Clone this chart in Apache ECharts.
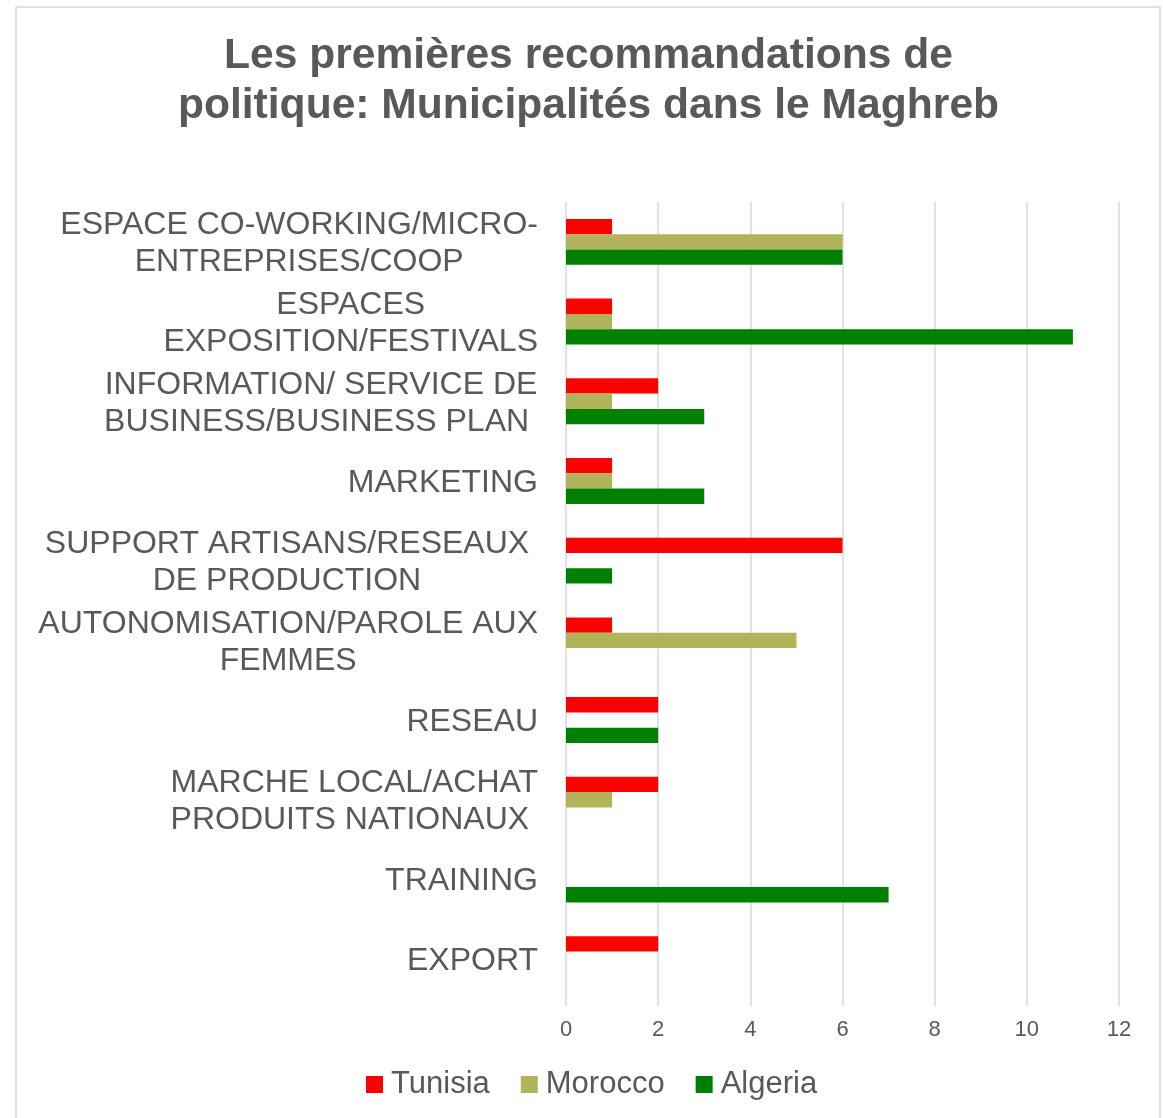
<!DOCTYPE html>
<html>
<head>
<meta charset="utf-8">
<script src="https://cdn.jsdelivr.net/npm/echarts@6/dist/echarts.min.js"></script>
<style>
    body { margin: 0; overflow: hidden; background: #fff; }
    #container { width: 1177px; height: 1118px; }
</style>
</head>
<body>
<div id="container"></div>
<script>
// 分类 (从上到下)
var categories = [
    'ESPACE CO-WORKING/MICRO-\nENTREPRISES/COOP',
    'ESPACES\nEXPOSITION/FESTIVALS',
    'INFORMATION/ SERVICE DE\nBUSINESS/BUSINESS PLAN ',
    'MARKETING',
    'SUPPORT ARTISANS/RESEAUX \nDE PRODUCTION ',
    'AUTONOMISATION/PAROLE AUX\nFEMMES',
    'RESEAU',
    'MARCHE LOCAL/ACHAT\nPRODUITS NATIONAUX ',
    'TRAINING',
    'EXPORT',
]
var seriesNames = ['Tunisia', 'Morocco', 'Algeria']
var tunisia = [1, 1, 2, 1, 6, 1, 2, 2, 0, 2]
var morocco = [6, 1, 1, 1, 0, 5, 0, 1, 0, 0]
var algeria = [6, 11, 3, 3, 1, 0, 2, 0, 7, 0]
var xTicks = [0, 12, 2]

var titleText = 'Les premières recommandations de\npolitique: Municipalités dans le Maghreb'

var textColor = '#595959'
var fontName = 'Liberation Sans, Arial, sans-serif'

// 多行标签: 每一行居中, 整块右对齐
var labelFormatter = function (value) {
    var lines = value.split('\n')
    var out = []
    for (var i = 0; i < lines.length; i++) {
        out.push('{c|' + lines[i] + '}')
    }
    return out.join('\n')
}

var makeSeries = function (name, data, color) {
    return {
        name: name,
        type: 'bar',
        data: data,
        barWidth: 15.3,
        barGap: '0%',
        itemStyle: { color: color },
    }
}

var chartInit = function () {
    var myChart = echarts.init(document.getElementById('container'))

    var option = {
        animation: false,
        textStyle: { fontFamily: fontName },
        title: {
            text: titleText,
            left: 'center',
            top: 26,
            textStyle: {
                fontFamily: fontName,
                fontSize: 42.6,
                fontWeight: 'bold',
                color: textColor,
                lineHeight: 50,
            },
        },
        graphic: [{
            type: 'rect',
            shape: { x: 16, y: 7, width: 1144, height: 1160 },
            style: { fill: 'none', stroke: '#d9d9d9', lineWidth: 1.5 },
            silent: true,
        }],
        legend: {
            data: seriesNames,
            left: 361,
            top: 1064,
            icon: 'rect',
            itemWidth: 17,
            itemHeight: 17,
            itemGap: 31,
            textStyle: {
                fontFamily: fontName,
                fontSize: 31,
                color: textColor,
                padding: [0, 0, 0, 3],
            },
        },
        grid: {
            left: 566,
            right: 58,
            top: 202,
            bottom: 119,
            containLabel: false,
        },
        xAxis: {
            type: 'value',
            min: xTicks[0],
            max: xTicks[1],
            interval: xTicks[2],
            axisLine: { show: false },
            axisTick: {
                show: true,
                length: 7,
                lineStyle: { color: '#d9d9d9', width: 1.5 },
            },
            splitLine: { lineStyle: { color: '#d9d9d9', width: 1.5 } },
            axisLabel: {
                fontFamily: fontName,
                fontSize: 22,
                color: textColor,
                margin: 20,
            },
        },
        yAxis: {
            type: 'category',
            inverse: true,
            data: categories,
            axisLine: { show: false },
            axisTick: { show: false },
            axisLabel: {
                fontFamily: fontName,
                fontSize: 32,
                color: textColor,
                margin: 28,
                lineHeight: 37,
                padding: [4, 0, 0, 0],
                formatter: labelFormatter,
                rich: {
                    c: {
                        fontFamily: fontName,
                        fontSize: 32,
                        color: textColor,
                        lineHeight: 37,
                        align: 'center',
                    },
                },
            },
        },
        series: [
            makeSeries(seriesNames[0], tunisia, '#FF0000'),
            makeSeries(seriesNames[1], morocco, '#B2B45A'),
            makeSeries(seriesNames[2], algeria, '#008000'),
        ],
    }

    myChart.setOption(option, true)
}

chartInit()
</script>
</body>
</html>
